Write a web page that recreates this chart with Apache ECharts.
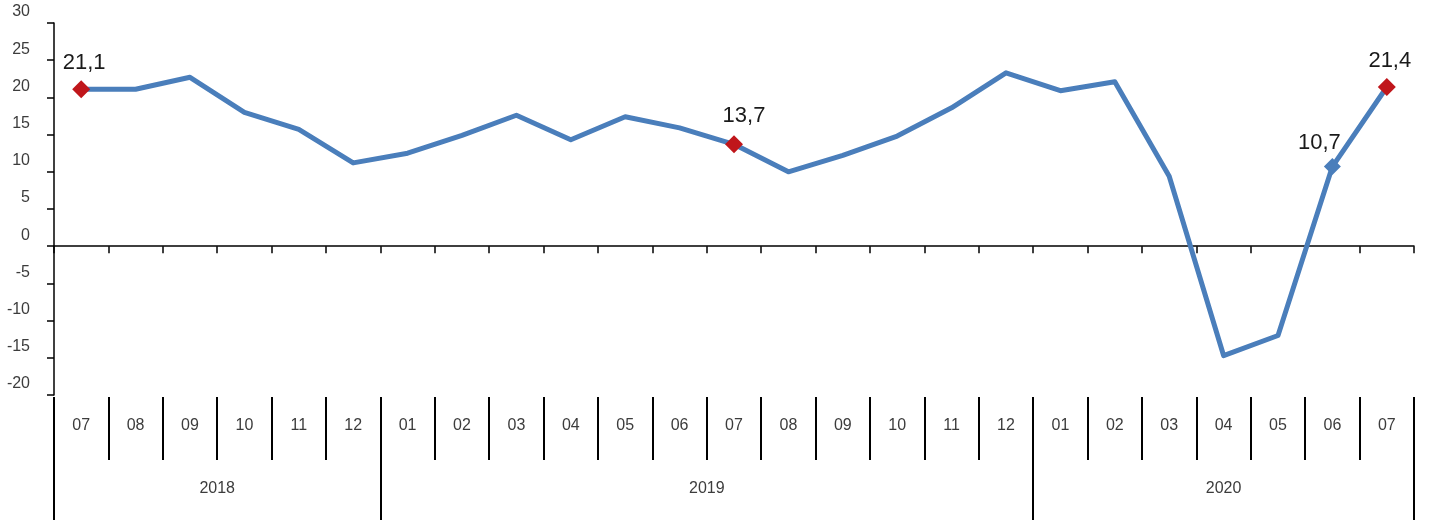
<!DOCTYPE html>
<html>
<head>
<meta charset="utf-8">
<script src="https://cdn.jsdelivr.net/npm/echarts@6/dist/echarts.min.js"></script>
<style>
html,body{margin:0;padding:0;background:#fff;}
#chart{width:1434px;height:525px;}
</style>
</head>
<body>
<div id="chart"></div>
<script>
// ---- data ----
var months = ['07','08','09','10','11','12','01','02','03','04','05','06','07','08','09','10','11','12','01','02','03','04','05','06','07'];
var yearOf = ['2018','2018','2018','2018','2018','2018','2019','2019','2019','2019','2019','2019','2019','2019','2019','2019','2019','2019','2020','2020','2020','2020','2020','2020','2020'];
var values = [21.1, 21.1, 22.7, 18.0, 15.7, 11.2, 12.5, 14.9, 17.6, 14.3, 17.4, 15.9, 13.7, 10.0, 12.2, 14.8, 18.6, 23.3, 20.9, 22.1, 9.4, -14.7, -12.0, 10.7, 21.4];
var markedRed = [0, 12, 24];
var markedBlue = [23];
var yTicks = { min: -20, max: 30, step: 5 };

// ---- layout / style ----
var FONT = 'Liberation Sans, Arial, sans-serif';
var LINE_COLOR = '#4a7ebb';
var RED = '#c0161b';
var AXIS_TXT = '#3c3c3c';
var gridLeft = 54, gridRight = 20;
var band = (1434 - gridLeft - gridRight) / months.length;

// year label positions (centered on each year's span)
var yearLabelAt = {};
(function () {
  var start = 0;
  for (var i = 1; i <= yearOf.length; i++) {
    if (i === yearOf.length || yearOf[i] !== yearOf[start]) {
      var c = (start + i - 1) / 2;
      if (c === Math.floor(c)) yearLabelAt[c] = '{c|' + yearOf[start] + '}';
      else yearLabelAt[Math.ceil(c)] = '{h|' + yearOf[start] + '}';
      start = i;
    }
  }
})();

var labelOffsets = {0: [3, 0], 12: [10, -2], 23: [-13, 2], 24: [3, 0]};

var seriesData = values.map(function (v, i) {
  var item = { value: v, symbol: 'none' };
  var isRed = markedRed.indexOf(i) >= 0, isBlue = markedBlue.indexOf(i) >= 0;
  if (isRed || isBlue) {
    item.symbol = 'diamond';
    item.symbolSize = isRed ? 18 : 17;
    item.itemStyle = { color: isRed ? RED : LINE_COLOR };
    item.label = {
      show: true,
      position: 'top',
      distance: 6,
      offset: labelOffsets[i] || [0, 0],
      formatter: function (p) { return String(p.value).replace('.', ','); },
      fontFamily: FONT,
      fontSize: 22,
      color: '#1a1a1a'
    };
  }
  return item;
});

var chart = echarts.init(document.getElementById('chart'), null, { renderer: 'canvas' });
chart.setOption({
  backgroundColor: '#ffffff',
  animation: false,
  grid: { left: gridLeft, right: gridRight, top: 23, bottom: 130, containLabel: false },
  xAxis: [
    {
      type: 'category',
      data: months,
      boundaryGap: true,
      axisLine: { show: true, onZero: true, lineStyle: { color: '#000', width: 1.5 } },
      axisTick: { show: true, interval: 0, length: 7, lineStyle: { color: '#000', width: 1.5 } },
      axisLabel: { show: false },
      splitLine: { show: false }
    },
    {
      type: 'category',
      data: months,
      boundaryGap: true,
      position: 'bottom',
      offset: 2,
      axisLine: { show: false, onZero: false },
      axisTick: { show: true, interval: 0, length: 63, lineStyle: { color: '#000', width: 2 } },
      axisLabel: { show: true, interval: 0, margin: 21, fontFamily: FONT, fontSize: 16, color: AXIS_TXT },
      splitLine: { show: false }
    },
    {
      type: 'category',
      data: months,
      boundaryGap: true,
      position: 'bottom',
      offset: 2,
      axisLine: { show: false, onZero: false },
      axisTick: {
        show: true,
        length: 123,
        interval: function (idx) { return idx === 0 || yearOf[idx] !== yearOf[idx - 1]; },
        lineStyle: { color: '#000', width: 2 }
      },
      axisLabel: {
        show: true,
        interval: 0,
        margin: 84,
        formatter: function (v, idx) { return yearLabelAt[idx] || ''; },
        rich: {
          c: { fontFamily: FONT, fontSize: 16, color: AXIS_TXT },
          h: { fontFamily: FONT, fontSize: 16, color: AXIS_TXT, padding: [0, band, 0, 0] }
        }
      },
      splitLine: { show: false }
    }
  ],
  yAxis: {
    type: 'value',
    min: yTicks.min,
    max: yTicks.max,
    interval: yTicks.step,
    axisLine: { show: true, onZero: false, lineStyle: { color: '#000', width: 1.5 } },
    axisTick: { show: true, length: 7, lineStyle: { color: '#000', width: 1.5 } },
    axisLabel: {
      show: true, margin: 24, fontFamily: FONT, fontSize: 16, color: AXIS_TXT,
      verticalAlign: 'bottom', padding: [0, 0, 3, 0]
    },
    splitLine: { show: false }
  },
  series: [{
    type: 'line',
    xAxisIndex: 0,
    data: seriesData,
    showSymbol: true,
    symbol: 'none',
    lineStyle: { color: LINE_COLOR, width: 5, join: 'round' },
    itemStyle: { color: LINE_COLOR },
    z: 3
  }]
});
</script>
</body>
</html>
